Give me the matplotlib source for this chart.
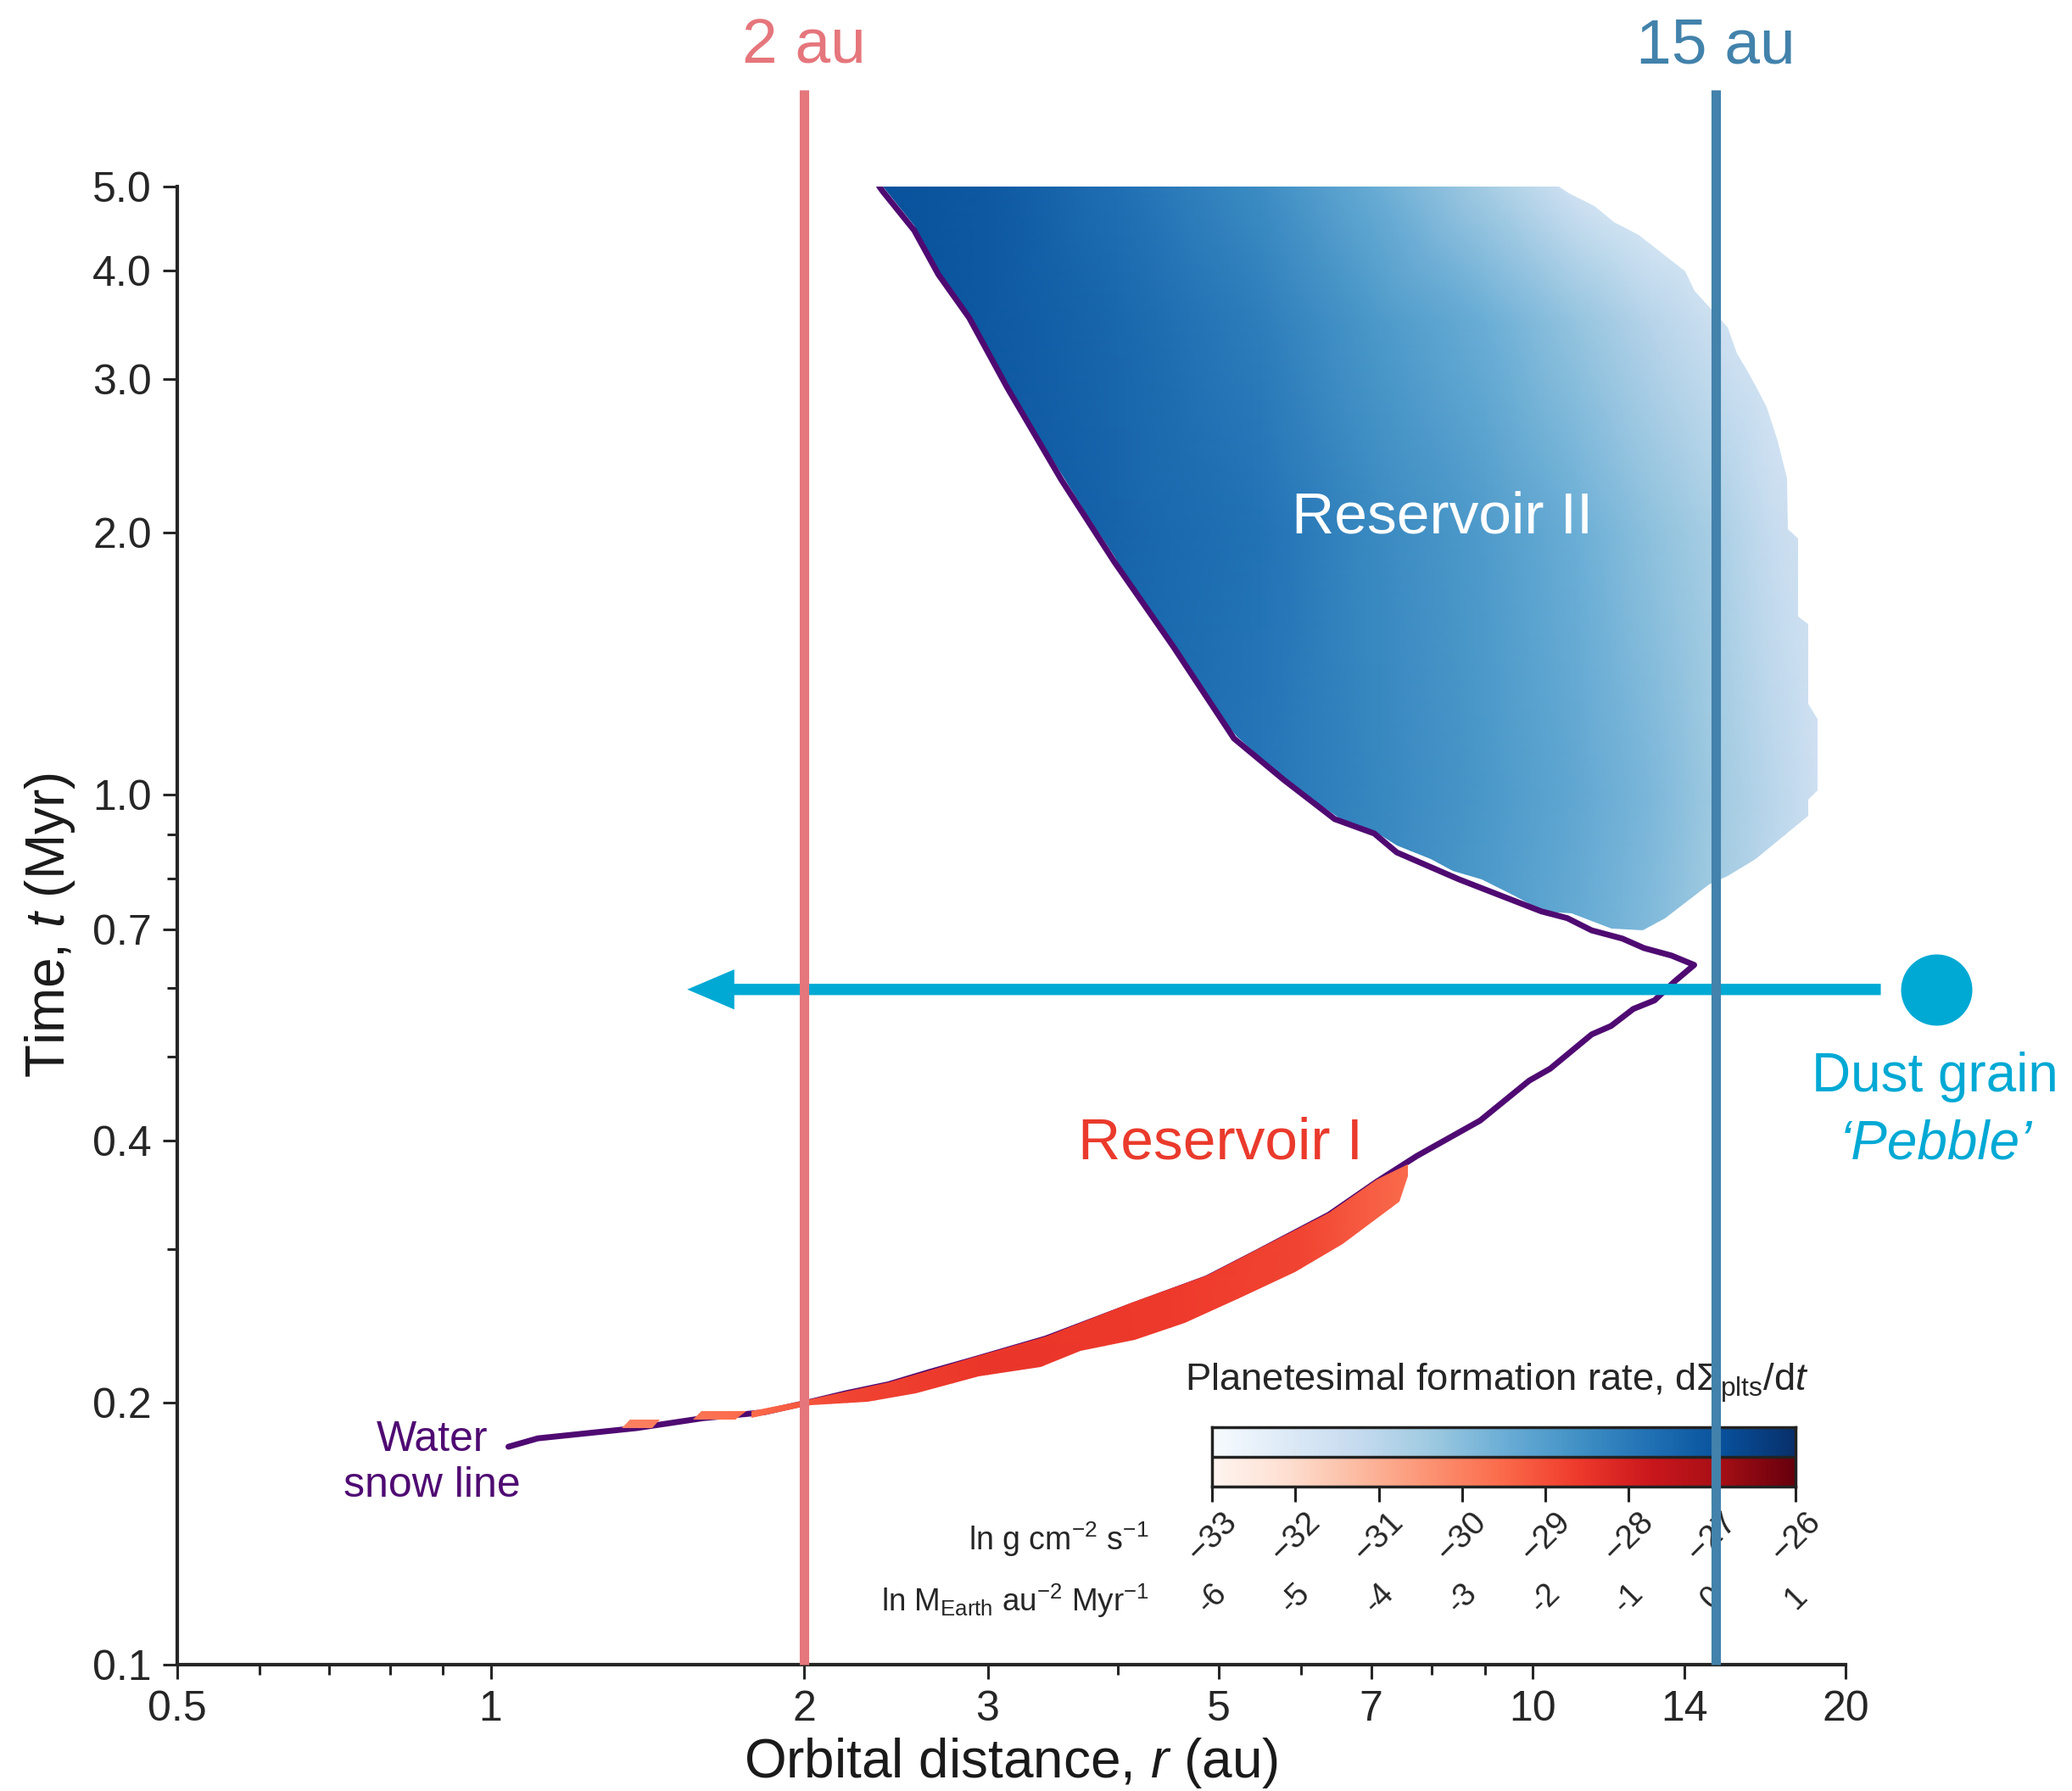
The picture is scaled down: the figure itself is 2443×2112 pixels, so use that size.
import numpy as np
import matplotlib
matplotlib.use('Agg')
from matplotlib import pyplot as plt
from matplotlib.lines import Line2D
from matplotlib.patches import Polygon, PathPatch, ArrowStyle
from matplotlib.path import Path
from matplotlib.transforms import blended_transform_factory

plt.rcParams['font.family'] = ['Liberation Sans', 'DejaVu Sans']
plt.rcParams['mathtext.fontset'] = 'custom'
plt.rcParams['mathtext.rm'] = 'Liberation Sans'
plt.rcParams['mathtext.it'] = 'Liberation Sans:italic'
plt.rcParams['mathtext.bf'] = 'Liberation Sans:bold'

# water snow line: orbital distance (au) vs time (Myr)
snow_r = [1.04, 1.11, 1.38, 1.60, 1.83, 2.01, 2.19, 2.41, 2.64, 2.90, 3.41, 4.11,
          4.87, 5.45, 6.38, 7.09, 7.74, 8.91, 9.93, 10.4, 11.4, 11.9, 12.5, 13.1,
          13.7, 14.3, 13.6, 12.8, 12.2, 11.4, 10.8, 10.2, 8.50, 7.41, 7.05, 6.46,
          5.77, 5.17, 4.52, 3.97, 3.53, 3.13, 2.88, 2.69, 2.55, 2.38, 2.36]
snow_t = [0.178, 0.182, 0.187, 0.192, 0.195, 0.200, 0.205, 0.210, 0.217, 0.224, 0.237, 0.258,
          0.278, 0.298, 0.329, 0.359, 0.384, 0.422, 0.469, 0.484, 0.530, 0.542, 0.567, 0.580,
          0.610, 0.637, 0.653, 0.666, 0.683, 0.698, 0.721, 0.734, 0.799, 0.858, 0.902, 0.937,
          1.04, 1.16, 1.48, 1.85, 2.30, 2.94, 3.53, 3.96, 4.45, 4.93, 5.0]

# outline of reservoir II (planetesimals formed outside the snow line)
res2_r = [2.38, 10.6, 10.84, 11.47, 11.98, 12.64, 14.02, 14.31, 15.39, 15.72, 16.07, 16.44,
          16.78, 17.20, 17.55, 17.59, 17.99, 18.0, 18.40, 18.40, 18.78, 18.78, 18.40, 18.40,
          16.38, 15.39, 14.77, 13.40, 12.76, 11.91, 10.91, 10.25, 9.64, 8.94, 8.39, 7.99,
          7.41, 7.05, 6.55, 5.84, 5.21, 4.89, 4.52, 4.20, 3.97, 3.75, 3.53, 3.34, 3.15,
          3.00, 2.85, 2.69, 2.55, 2.38]
res2_t = [5.0, 5.0, 4.91, 4.75, 4.55, 4.40, 3.99, 3.79, 3.44, 3.21, 3.07, 2.92,
          2.79, 2.55, 2.31, 2.02, 1.97, 1.60, 1.57, 1.27, 1.22, 1.01, 0.986, 0.946,
          0.843, 0.806, 0.788, 0.721, 0.698, 0.701, 0.730, 0.733, 0.764, 0.799, 0.817, 0.843,
          0.874, 0.908, 0.937, 1.03, 1.165, 1.27, 1.49, 1.67, 1.88, 2.08, 2.34, 2.59, 2.91,
          3.23, 3.58, 4.01, 4.51, 5.0]

# formation rate in reservoir II, ln(g cm^-2 s^-1); one row per res2_grid_t
res2_grid_r = [2.3, 3.0, 4.0, 5.5, 7.0, 9.0, 11.0, 13.0, 15.0, 17.0, 19.0]
res2_grid_t = [0.65, 1.0, 2.0, 3.5, 5.0]
res2_rate = [
    [-27.1, -27.3, -27.5, -28.0, -28.4, -28.9, -29.4, -29.9, -30.5, -31.1, -31.6],
    [-27.0, -27.2, -27.5, -27.9, -28.3, -28.8, -29.3, -29.8, -30.4, -31.0, -31.6],
    [-26.9, -27.1, -27.4, -27.8, -28.4, -28.9, -29.5, -30.1, -30.6, -31.3, -31.7],
    [-26.9, -27.1, -27.5, -28.1, -28.8, -29.5, -30.2, -30.9, -31.5, -31.9, -32.3],
    [-26.9, -27.1, -27.7, -28.5, -29.4, -30.5, -31.7, -32.3, -32.4, -32.6, -32.6],
]

# reservoir I: thin band just inside the snow line, plus two small patches further in
res1_upper_r = [1.78, 2.01, 2.19, 2.41, 2.64, 2.90, 3.41, 4.11, 4.87, 5.45, 6.38, 7.09, 7.60]
res1_upper_t = [0.1955, 0.2015, 0.2060, 0.2110, 0.2180, 0.2255, 0.2385, 0.2600, 0.2800, 0.3000,
                0.3310, 0.3610, 0.376]
res1_lower_r = [1.78, 2.03, 2.30, 2.56, 2.94, 3.37, 3.68, 4.15, 4.64, 5.25, 5.92, 6.57, 7.45, 7.60]
res1_lower_t = [0.192, 0.1985, 0.2005, 0.205, 0.2144, 0.2198, 0.2294, 0.2361, 0.2470, 0.2642,
                0.2827, 0.3043, 0.3405, 0.364]
res1_patch1_r = [1.361, 1.454, 1.428, 1.337]
res1_patch1_t = [0.1913, 0.1913, 0.1870, 0.1870]
res1_patch2_r = [1.593, 1.760, 1.718, 1.564]
res1_patch2_t = [0.1956, 0.1956, 0.1913, 0.1913]
res1_grid_r = [1.3, 1.8, 2.2, 3.0, 4.5, 6.0, 7.7]
res1_grid_t = [0.17, 0.40]
res1_rate = [-30.1, -29.5, -28.8, -28.5, -28.6, -28.8, -29.6]

# colour scale
rate_min, rate_max = -33, -26
cbar_ticks = [-33, -32, -31, -30, -29, -28, -27, -26]
cbar_earth_labels = ['-6', '-5', '-4', '-3', '-2', '-1', '0', '1']

# axes ticks
x_ticks = [0.5, 1, 2, 3, 5, 7, 10, 14, 20]
x_tick_labels = ['0.5', '1', '2', '3', '5', '7', '10', '14', '20']
x_minor = [0.6, 0.7, 0.8, 0.9, 4, 6, 8, 9]
y_ticks = [0.1, 0.2, 0.4, 0.7, 1.0, 2.0, 3.0, 4.0, 5.0]
y_tick_labels = ['0.1', '0.2', '0.4', '0.7', '1.0', '2.0', '3.0', '4.0', '5.0']
y_minor = [0.3, 0.5, 0.6, 0.8, 0.9]

# marker lines and the drifting pebble
inner_r, outer_r = 2.0, 15.0
pebble_t = 0.597
pebble_from, pebble_to = 21.6, 1.544
pebble_dot_r = 24.4

snow_col = '#4f0a72'
pebble_col = '#00a9d4'
inner_col = '#e5767c'
outer_col = '#4282ab'
ink = '#262626'

fig = plt.figure(figsize=(24.43, 21.12), dpi=100)
ax = fig.add_axes([0.08547, 0.07055, 0.80544, 0.82543])
ax.set_xscale('log')
ax.set_yscale('log')
ax.set_xlim(0.5, 20)
ax.set_ylim(0.1, 5.0)

# reservoir II: smooth rate field clipped to its outline
R2, T2 = np.meshgrid(res2_grid_r, res2_grid_t)
mesh2 = ax.pcolormesh(R2, T2, np.array(res2_rate), shading='gouraud', cmap='Blues',
                      vmin=rate_min, vmax=rate_max, zorder=2)
outline2 = Polygon(np.column_stack([res2_r, res2_t]), closed=True, transform=ax.transData)
mesh2.set_clip_path(outline2)

# snow line
ax.plot(snow_r, snow_t, color=snow_col, lw=5, zorder=3, solid_joinstyle='round',
        solid_capstyle='round')

# reservoir I band
R1, T1 = np.meshgrid(res1_grid_r, res1_grid_t)
mesh1 = ax.pcolormesh(R1, T1, np.array([res1_rate, res1_rate]), shading='gouraud', cmap='Reds',
                      vmin=rate_min, vmax=rate_max, zorder=4)
band_r = res1_upper_r + res1_lower_r[::-1]
band_t = res1_upper_t + res1_lower_t[::-1]
band_path = Path.make_compound_path(
    Path(np.column_stack([band_r, band_t]), closed=False),
    Path(np.column_stack([res1_patch1_r, res1_patch1_t])),
    Path(np.column_stack([res1_patch2_r, res1_patch2_t])))
outline1 = PathPatch(band_path, transform=ax.transData)
mesh1.set_clip_path(outline1)

# pebble drifting inwards
ax.annotate('', xy=(pebble_to, pebble_t), xytext=(pebble_from, pebble_t),
            arrowprops=dict(arrowstyle=ArrowStyle('simple', head_length=40, head_width=34,
                                                  tail_width=9.6),
                            mutation_scale=1, fc=pebble_col, ec='none', lw=0,
                            shrinkA=0, shrinkB=0),
            annotation_clip=False, zorder=5)
ax.plot([pebble_dot_r], [pebble_t], 'o', ms=60.5, color=pebble_col, mec='none',
        clip_on=False, zorder=5)

# texts inside the axes
ax.text(8.2, 2.0, 'Reservoir II', color='white', fontsize=50, ha='center', va='baseline', zorder=6)
ax.text(5.02, 0.381, 'Reservoir I', color='#ea3a2c', fontsize=50, ha='center', va='baseline', zorder=6)
ax.text(0.879, 0.176, 'Water', color=snow_col, fontsize=36, ha='center', va='baseline')
ax.text(0.879, 0.156, 'snow line', color=snow_col, fontsize=36, ha='center', va='baseline')

fig.text(0.9337, 0.3906, 'Dust grain', color=pebble_col, fontsize=46, ha='center', va='baseline')
fig.text(0.9345, 0.3532, '\u2018Pebble\u2019', color=pebble_col, fontsize=46, style='italic',
         ha='center', va='baseline')

# axes styling
for side in ['top', 'right']:
    ax.spines[side].set_visible(False)
for side in ['left', 'bottom']:
    ax.spines[side].set_linewidth(3)
    ax.spines[side].set_color(ink)
ax.set_xticks(x_ticks)
ax.set_xticklabels(x_tick_labels)
ax.set_xticks(x_minor, minor=True)
ax.set_yticks(y_ticks)
ax.set_yticklabels(y_tick_labels)
ax.set_yticks(y_minor, minor=True)
ax.tick_params(which='major', length=12, width=2.2, labelsize=36, pad=9.5, colors=ink)
ax.tick_params(which='minor', length=8.5, width=2.2, colors=ink)
ax.xaxis.set_minor_formatter(plt.NullFormatter())
ax.yaxis.set_minor_formatter(plt.NullFormatter())

fig.text(0.488, 0.0078, 'Orbital distance, $r$ (au)', fontsize=46, color='#1a1a1a',
         ha='center', va='baseline')
fig.text(0.0242, 0.4834, 'Time, $t$ (Myr)', fontsize=46, color='#1a1a1a', rotation=90,
         ha='center', va='center')

# 2 au and 15 au markers, drawn above everything
top_t = 6.45
xfig = blended_transform_factory(ax.transData, fig.transFigure)
for r, col, label in [(inner_r, inner_col, '2 au'), (outer_r, outer_col, '15 au')]:
    fig.add_artist(Line2D([r, r], [0.1, top_t], transform=ax.transData, color=col, lw=8,
                          solid_capstyle='butt', zorder=10))
    fig.text(r, 0.9645, label, transform=xfig, color=col, fontsize=54, ha='center', va='baseline')

# colour bar for both reservoirs
cax = fig.add_axes([0.58494, 0.16998, 0.28162, 0.03314])
ramp = np.linspace(rate_min, rate_max, 512)[None, :]
cax.imshow(ramp, cmap='Blues', extent=[rate_min, rate_max, 1, 2], aspect='auto',
           vmin=rate_min, vmax=rate_max)
cax.imshow(ramp, cmap='Reds', extent=[rate_min, rate_max, 0, 1], aspect='auto',
           vmin=rate_min, vmax=rate_max)
cax.set_xlim(rate_min, rate_max)
cax.set_ylim(0, 2)
cax.axhline(1, color='#222222', lw=2.5)
for sp in cax.spines.values():
    sp.set_linewidth(2.5)
    sp.set_color('#222222')
cax.set_yticks([])
cax.set_xticks(cbar_ticks)
cax.set_xticklabels([])
cax.tick_params(axis='x', length=13, width=2.2, color='#222222')

cfig = blended_transform_factory(cax.transData, fig.transFigure)
for v, lab in zip(cbar_ticks, cbar_earth_labels):
    fig.text(v, 0.1416, '\u2212%d' % abs(v), transform=cfig, fontsize=28, color=ink,
             rotation=45, ha='center', va='center', rotation_mode='anchor')
    fig.text(v, 0.1075, lab, transform=cfig, fontsize=27, color=ink,
             rotation=45, ha='center', va='center', rotation_mode='anchor')
fig.text(0.5546, 0.1406, 'ln g cm$^{-2}$ s$^{-1}$', fontsize=27, color=ink, ha='right', va='center')
fig.text(0.5546, 0.1061, 'ln M$_{\\mathrm{Earth}}$ au$^{-2}$ Myr$^{-1}$', fontsize=26.5, color=ink,
         ha='right', va='center')
fig.text(0.5718, 0.2235, 'Planetesimal formation rate, d$\\Sigma_{\\mathrm{plts}}$/d$t$',
         fontsize=32.7, color=ink, ha='left', va='baseline')

fig.savefig('out.png', dpi=100, facecolor='white')
